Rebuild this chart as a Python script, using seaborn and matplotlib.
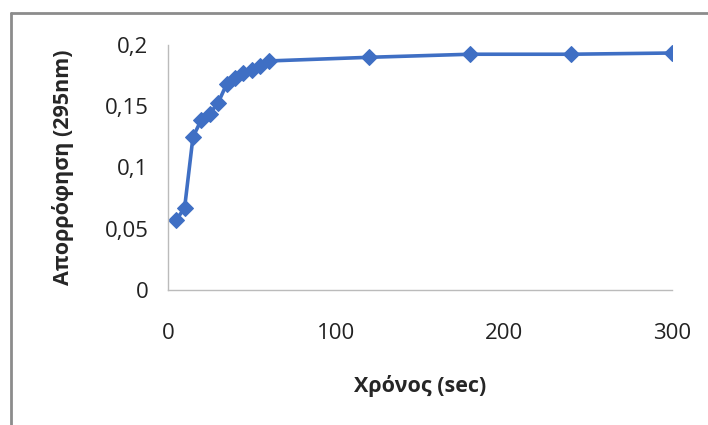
import matplotlib
matplotlib.use("Agg")
import matplotlib.pyplot as plt
import matplotlib.ticker as mticker
from matplotlib.lines import Line2D
import seaborn as sns
import pandas as pd

# time (sec) and absorbance at 295nm
time_sec = [5, 10, 15, 20, 25, 30, 35, 40, 45, 50, 55, 60, 120, 180, 240, 300]
absorbance = [0.057, 0.067, 0.125, 0.139, 0.144, 0.153, 0.168, 0.173,
              0.177, 0.180, 0.183, 0.187, 0.190, 0.1925, 0.1925, 0.1935]

x_ticks = [0, 100, 200, 300]
y_ticks = [0, 0.05, 0.1, 0.15, 0.2]

df = pd.DataFrame({"t": time_sec, "A": absorbance})

sns.set_style("white")
plt.rcParams["font.family"] = ["Open Sans", "DejaVu Sans"]

fig = plt.figure(figsize=(7.08, 4.25), dpi=100)
ax = fig.add_axes([0.237, 0.318, 0.712, 0.576])

sns.lineplot(data=df, x="t", y="A", ax=ax, color="#3F6FC4", linewidth=2.6,
             marker="D", markersize=8.5, markeredgecolor="#3F6FC4")

ax.set_xlim(0, 300)
ax.set_ylim(0, 0.2)
ax.set_xticks(x_ticks)
ax.set_yticks(y_ticks)
ax.yaxis.set_major_formatter(mticker.FuncFormatter(
    lambda v, p: ("%g" % round(v, 2)).replace(".", ",")))

for side in ["top", "right"]:
    ax.spines[side].set_visible(False)
for side in ["left", "bottom"]:
    ax.spines[side].set_color("#BBBBBB")
    ax.spines[side].set_linewidth(1.0)

ax.tick_params(axis="x", length=0, pad=24, labelsize=16, labelcolor="#222222")
ax.tick_params(axis="y", length=0, pad=14, labelsize=16, labelcolor="#222222")

ax.set_xlabel("Χρόνος (sec)", fontsize=15.5, fontweight="bold", labelpad=22)
ax.set_ylabel("Απορρόφηση (295nm)", fontsize=15.5, fontweight="bold", labelpad=22)

# chart frame (left and top edges visible in the crop)
fig.add_artist(Line2D([11 / 708, 11 / 708], [0, 1 - 13 / 425],
                      transform=fig.transFigure, color="#8C8C8C", linewidth=2))
fig.add_artist(Line2D([11 / 708, 1], [1 - 13 / 425, 1 - 13 / 425],
                      transform=fig.transFigure, color="#8C8C8C", linewidth=2))

fig.savefig("out.png", dpi=100)
